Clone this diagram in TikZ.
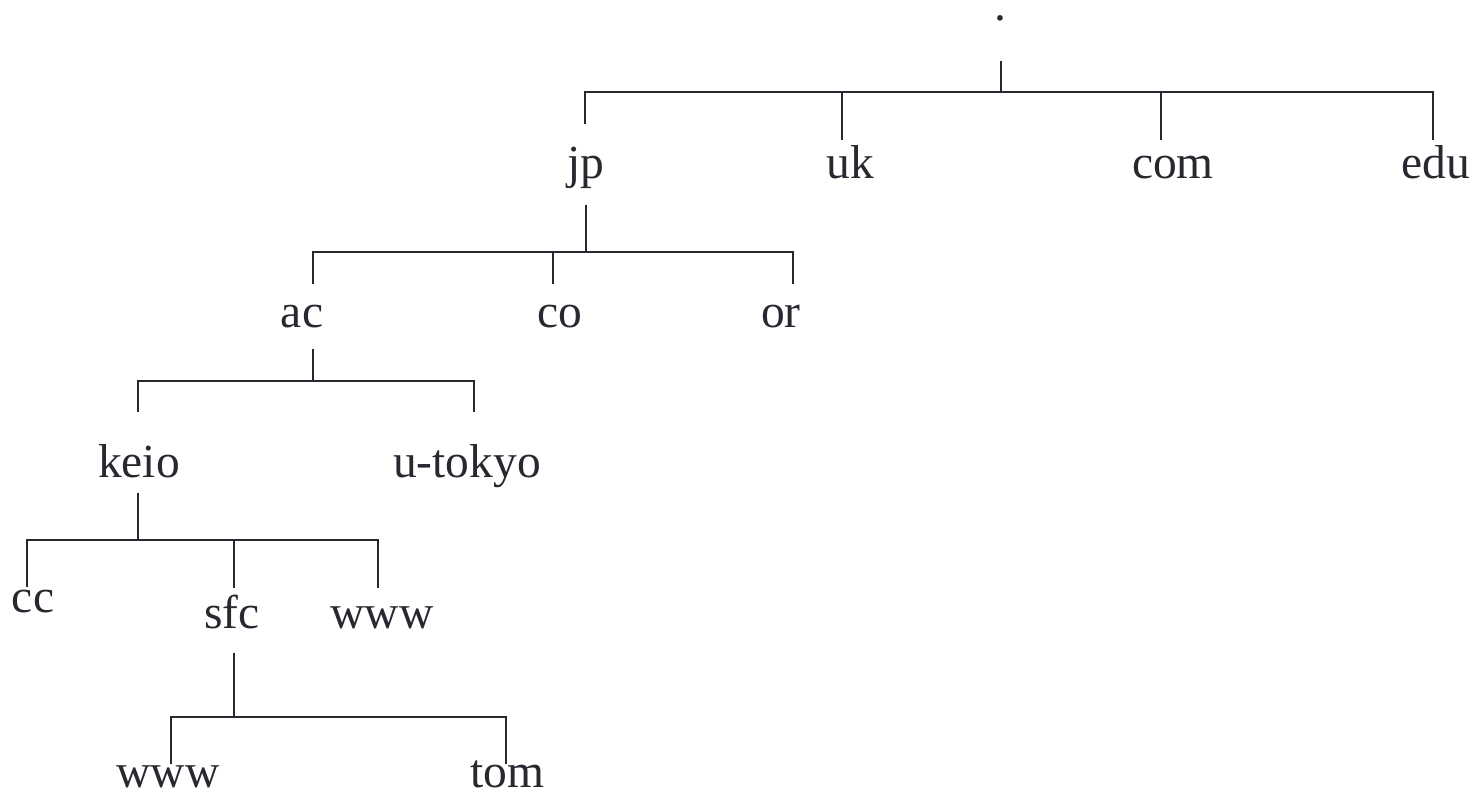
\documentclass[tikz,border=0pt]{standalone}
\usepackage{fontspec}
\setmainfont{Liberation Serif}
\definecolor{ink}{RGB}{40,40,48}

\begin{document}
\begin{tikzpicture}[x=0.5pt, y=-0.5pt, line width=1pt, color=ink,
        every node/.style={anchor=base, inner sep=0pt, font=\fontsize{23.75}{28}\selectfont}]
            \useasboundingbox (0,0) rectangle (1476,800);

            \node[text height=0.4ex] (root) at (1000,20) {.};

            \node (jp) at (586,178) {jp};
            \node (uk) at (850,178) {uk};
            \node (com) at (1173,178) {com};
            \node (edu) at (1436,178) {edu};

            \node (ac) at (302,327) {ac};
            \node (co) at (560,327) {co};
            \node (or) at (781,327) {or};

            \node (keio) at (139,477) {keio};
            \node (u-tokyo) at (467,477) {u-tokyo};

            \node (cc) at (33,612) {cc};
            \node (sfc) at (232,628) {sfc};
            \node (keio-www) at (382,628) {www};

            \node (sfc-www) at (168,787) {www};
            \node (tom) at (507,787) {tom};

            % stems and forks
            \coordinate (root-stem) at (1001,61);
            \coordinate (root-fork) at (1001,92);
            \coordinate (jp-stem) at (586,205);
            \coordinate (jp-fork) at (586,252);
            \coordinate (ac-stem) at (313,349);
            \coordinate (ac-fork) at (313,381);
            \coordinate (keio-stem) at (138,493);
            \coordinate (keio-fork) at (138,540);
            \coordinate (sfc-stem) at (234,653);
            \coordinate (sfc-fork) at (234,717);

            % tips above the children
            \coordinate (jp-tip) at (585,124);
            \coordinate (uk-tip) at (842,140);
            \coordinate (com-tip) at (1161,140);
            \coordinate (edu-tip) at (1433,140);
            \coordinate (ac-tip) at (313,284);
            \coordinate (co-tip) at (553,284);
            \coordinate (or-tip) at (793,284);
            \coordinate (keio-tip) at (138,412);
            \coordinate (u-tokyo-tip) at (474,412);
            \coordinate (cc-tip) at (27,587);
            \coordinate (sfc-tip) at (234,588);
            \coordinate (keio-www-tip) at (378,588);
            \coordinate (sfc-www-tip) at (171,764);
            \coordinate (tom-tip) at (506,764);

            \draw (root-stem) -- (root-fork);
            \draw (jp-tip) |- (root-fork) -| (edu-tip);
            \foreach \c in {uk, com}
                \draw (\c-tip) -- (\c-tip |- root-fork);

            \draw (jp-stem) -- (jp-fork);
            \draw (ac-tip) |- (jp-fork) -| (or-tip);
            \draw (co-tip) -- (co-tip |- jp-fork);

            \draw (ac-stem) -- (ac-fork);
            \draw (keio-tip) |- (ac-fork) -| (u-tokyo-tip);

            \draw (keio-stem) -- (keio-fork);
            \draw (cc-tip) |- (keio-fork) -| (keio-www-tip);
            \draw (sfc-tip) -- (sfc-tip |- keio-fork);

            \draw (sfc-stem) -- (sfc-fork);
            \draw (sfc-www-tip) |- (sfc-fork) -| (tom-tip);
        \end{tikzpicture}
\end{document}
